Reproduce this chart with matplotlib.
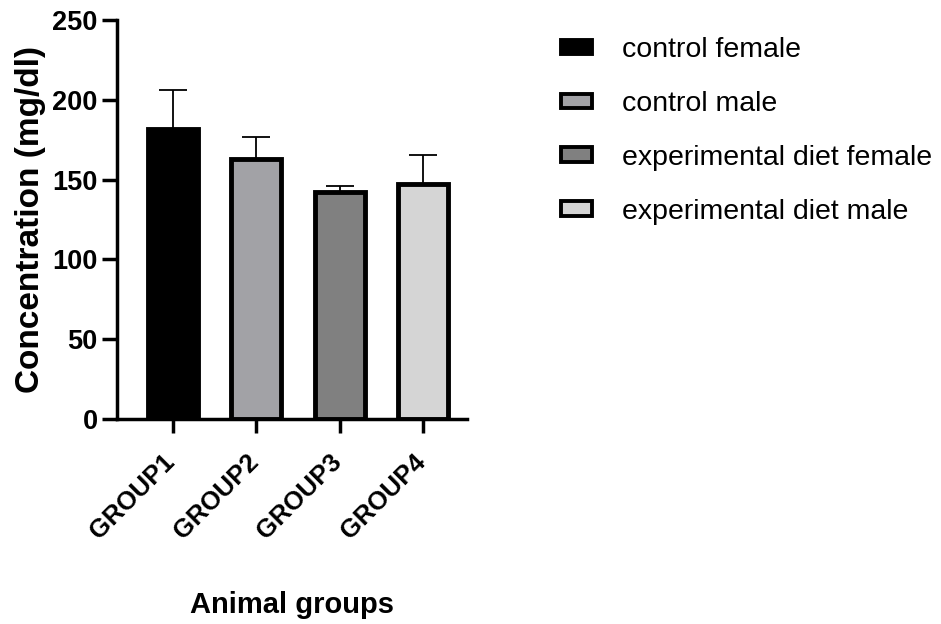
import matplotlib
matplotlib.use("Agg")
from matplotlib import pyplot as plt
from matplotlib import font_manager
from matplotlib.patches import Patch
import matplotlib.transforms as mtransforms
import numpy as np

plt.rcParams['font.family'] = ['Liberation Sans', 'DejaVu Sans']

# tick labels in the reference use a narrow bold face
installed = {f.name for f in font_manager.fontManager.ttflist}
if "Liberation Sans Narrow" in installed:
    tick_font, ytick_size, xtick_size = "Liberation Sans Narrow", 23, 22
else:
    tick_font, ytick_size, xtick_size = "Liberation Sans", 19.5, 18.5

groups = ["GROUP1", "GROUP2", "GROUP3", "GROUP4"]
series = ["control female", "control male",
          "experimental diet female", "experimental diet male"]
means = [182, 163, 142, 147.5]
errors = [24, 13.5, 4, 18]
colors = ["#000000", "#a2a2a6", "#808080", "#d5d5d5"]

fig = plt.figure(figsize=(9.41, 6.24), dpi=100)
ax = fig.add_axes([117/941, 1 - 419/624, 350/941, 399/624])

x = np.arange(len(groups))
ax.bar(x, means, width=0.6, color=colors, edgecolor="black", linewidth=3.5, zorder=2)
ax.errorbar(x, means, yerr=[np.zeros(len(errors)), errors], fmt="none",
            ecolor="black", elinewidth=1.3, capsize=10, capthick=1.3, zorder=1)

ax.set_xlim(-0.67, 3.525)
ax.set_ylim(0, 250)
ax.set_yticks([0, 50, 100, 150, 200, 250])

for side in ["top", "right"]:
    ax.spines[side].set_visible(False)
for side in ["left", "bottom"]:
    ax.spines[side].set_linewidth(2.5)

ax.tick_params(axis="y", length=11, width=2.5, pad=3)
ax.tick_params(axis="x", length=10, width=2.5, pad=12)
ax.set_yticks(ax.get_yticks())
ax.set_yticklabels([f"{int(v)}" for v in ax.get_yticks()], family=tick_font,
                   fontsize=ytick_size, fontweight="bold")

ax.set_xticks(x)
ax.set_xticklabels(groups, rotation=45, ha="right", va="top",
                   rotation_mode="anchor", fontweight="bold",
                   family=tick_font, fontsize=xtick_size)
shift = mtransforms.ScaledTranslation(-10/100, 0, fig.dpi_scale_trans)
for lab in ax.get_xticklabels():
    lab.set_transform(lab.get_transform() + shift)

ax.set_ylabel("Concentration (mg/dl)", fontsize=24, fontweight="bold")
ax.yaxis.set_label_coords(-0.203, 0.5)
ax.set_xlabel("Animal groups", fontsize=21, fontweight="bold")
ax.xaxis.set_label_coords(0.5, -0.43)

handles = [Patch(facecolor=c, edgecolor="black", linewidth=2.8) for c in colors]
fig.legend(handles, series, loc="upper left", bbox_to_anchor=(561/941, 1 - 37/624),
           frameon=False, fontsize=20.5, borderpad=0, borderaxespad=0,
           handlelength=1.1, handleheight=0.4, handletextpad=1.05, labelspacing=0.98)

fig.savefig("out.png", dpi=100)
